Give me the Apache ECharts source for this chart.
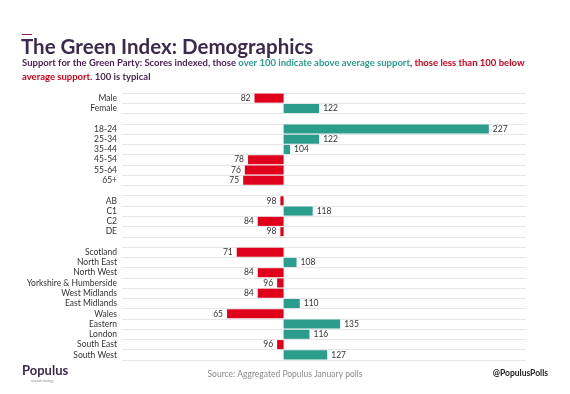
<!DOCTYPE html>
<html><head><meta charset="utf-8">
<script src="https://cdn.jsdelivr.net/npm/echarts@6/dist/echarts.min.js"></script>
<style>html,body{margin:0;padding:0;background:#fff}#c{width:570px;height:394px}</style>
</head><body><div id="c"></div>
<script>
var categories = ['Male','Female','','18-24','25-34','35-44','45-54','55-64','65+',' ','AB','C1','C2','DE','  ','Scotland','North East','North West','Yorkshire & Humberside','West Midlands','East Midlands','Wales','Eastern','London','South East','South West'];
var scores = [82,122,null,227,122,104,78,76,75,null,98,118,84,98,null,71,108,84,96,84,110,65,135,116,96,127];
var baseline = 100;
var axisMin = 0, axisMax = 250;
var title = 'The Green Index: Demographics';
var source = 'Source: Aggregated Populus January polls';

var RED = '#e0001b', TEAL = '#2a9d8c';
var font = 'Lato, sans-serif';
var data = scores.map(function(v){
  if (v === null) return {value: null};
  var neg = v < baseline;
  return {value: v - baseline, raw: v,
    itemStyle: {color: neg ? RED : TEAL},
    label: {position: neg ? 'left' : 'right'}};
});
var chart = echarts.init(document.getElementById('c'), null, {renderer:'canvas'});
chart.setOption({
  animation: false,
  grid: {left: 122, right: 44, top: 93, bottom: 34},
  xAxis: {type: 'value', min: axisMin - baseline, max: axisMax - baseline,
    show: false, splitLine: {show: false}},
  yAxis: {type: 'category', data: categories, inverse: true,
    axisLine: {show: false}, axisTick: {show: false},
    axisLabel: {fontSize: 8.5, color: '#333', margin: 5, fontFamily: font, interval: 0},
    splitLine: {show: true, interval: 0, lineStyle: {color: '#e6e6e6', width: 1}}},
  series: [{type: 'bar', data: data, barCategoryGap: '12%',
    label: {show: true, fontSize: 8.5, color: '#333', fontFamily: font, distance: 4,
      formatter: function(p){ return p.data.raw; }}}],
  graphic: [
    {type: 'rect', shape: {x: 22, y: 34, width: 10, height: 1}, style: {fill: '#8b2252'}},
    {type: 'text', left: 21, top: 37, style: {text: title, font: 'bold 20.5px ' + font, fill: '#3c2a4d'}},
    {type: 'text', left: 22, top: 58, style: {
      text: '{a|Support for the Green Party: Scores indexed, those }{g|over 100 indicate above average support}{a|, }{r|those less than 100 below}\n{r|average support}{a|. 100 is typical}',
      rich: {
        a: {fontSize: 9.5, fontWeight: 'bold', fill: '#4a1f4f', fontFamily: font, lineHeight: 14},
        g: {fontSize: 9.5, fontWeight: 'bold', fill: '#2a9d8c', fontFamily: font, lineHeight: 14},
        r: {fontSize: 9.5, fontWeight: 'bold', fill: '#d0021b', fontFamily: font, lineHeight: 14}
      }}},
    {type: 'text', left: 22, top: 364, style: {text: 'Populus', font: 'bold 13px ' + font, fill: '#3c2a4d'}},
    {type: 'text', left: 31, top: 380, style: {text: 'research strategy', font: '3px ' + font, fill: '#888'}},
    {type: 'text', left: 'center', top: 370, style: {text: source, font: '8.5px ' + font, fill: '#8a8a8a'}},
    {type: 'text', right: 22, top: 369, style: {text: '@PopulusPolls', font: 'bold 8.5px ' + font, fill: '#222'}}
  ]
});
</script></body></html>
